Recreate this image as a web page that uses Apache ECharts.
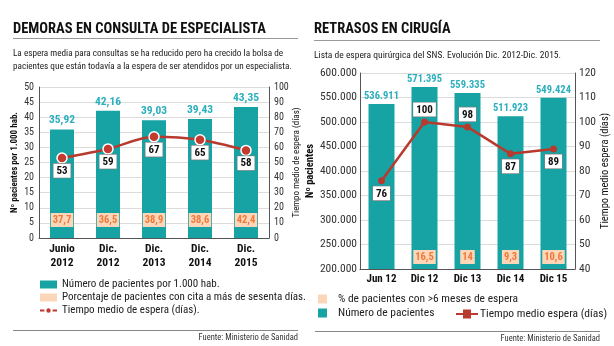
<!DOCTYPE html>
<html><head><meta charset="utf-8">
<script src="https://cdn.jsdelivr.net/npm/echarts@6/dist/echarts.min.js"></script>
<style>html,body{margin:0;padding:0;background:#fff}#c{width:614px;height:346px}</style>
</head><body><div id="c"></div>
<script>
// ---- Data ----
const consultaCats = ['Junio\n2012', 'Dic.\n2012', 'Dic.\n2013', 'Dic.\n2014', 'Dic.\n2015'];
const consultaPacientes = [35.92, 42.16, 39.03, 39.43, 43.35];
const consultaPct = [37.7, 36.5, 38.9, 38.6, 42.4];
const consultaDias = [53, 59, 67, 65, 58];

const cirugiaCats = ['Jun 12', 'Dic 12', 'Dic 13', 'Dic 14', 'Dic 15'];
const cirugiaPacientes = [536911, 571395, 559335, 511923, 549424];
const cirugiaPct = [null, 16.5, 14, 9.3, 10.6];
const cirugiaDias = [76, 100, 98, 87, 89];

// ---- Styles ----
const FONT = 'Roboto';
const CS = 'condensed';
const TEAL = '#17A3A3';
const TEAL_TXT = '#2AAFBD';
const RED = '#B83A2E';
const PEACH = '#FCD6B8';
const ORANGE = '#F0793A';
const cirugiaLabelPos = ['bottom', 'top', 'top', 'bottom', 'bottom'];

const comma = v => String(v).replace('.', ',');
const thousands = v => String(v).replace(/\B(?=(\d{3})+(?!\d))/g, '.');
const txt = (size, weight, color) => ({ fontFamily: FONT, fontStyle: CS, fontSize: size, fontWeight: weight || 'normal', color: color || '#222' });

const boxLabel = Object.assign(txt(11, 'bold', '#111'), {
  show: true, backgroundColor: '#fff', borderColor: '#777', borderWidth: 0.6, padding: [2, 3, 1, 3]
});
const pctLabel = (fmt) => Object.assign(txt(10.5, 'bold', ORANGE), {
  show: true, position: 'insideBottom', backgroundColor: PEACH, padding: [2, 2, 1, 2], formatter: fmt
});

const chart = echarts.init(document.getElementById('c'));
const axisLine = { show: true, lineStyle: { color: '#555', width: 1 } };

chart.setOption({
  backgroundColor: '#fff',
  animation: false,
  grid: [
    { left: 39, right: 345, top: 87, bottom: 108 },
    { left: 360, right: 39, top: 73, bottom: 77 }
  ],
  xAxis: [
    { type: 'category', gridIndex: 0, data: consultaCats, axisLine: axisLine, axisTick: { show: false },
      axisLabel: Object.assign(txt(11.5, 'bold', '#111'), { lineHeight: 14, margin: 4, interval: 0 }) },
    { type: 'category', gridIndex: 1, data: cirugiaCats, axisLine: axisLine, axisTick: { show: false },
      axisLabel: Object.assign(txt(11, 'bold', '#111'), { margin: 5, interval: 0 }) }
  ],
  yAxis: [
    { type: 'value', gridIndex: 0, min: 0, max: 50, interval: 5, axisLine: axisLine, axisTick: { show: false },
      axisLabel: Object.assign(txt(10, 'normal', '#333'), { margin: 5 }), splitLine: { lineStyle: { color: '#dcdcdc' } },
      name: 'Nº pacientes por 1.000 hab.', nameLocation: 'middle', nameGap: 20, nameRotate: 90,
      nameTextStyle: txt(9, 'bold', '#111') },
    { type: 'value', gridIndex: 0, min: 0, max: 100, interval: 10, position: 'right', axisLine: axisLine, axisTick: { show: false },
      axisLabel: Object.assign(txt(10, 'normal', '#333'), { margin: 5 }), splitLine: { show: false },
      name: 'Tiempo medio de espera (días)', nameLocation: 'middle', nameGap: 18, nameRotate: 90,
      nameTextStyle: txt(9, 'normal', '#111') },
    { type: 'value', gridIndex: 1, min: 200000, max: 600000, interval: 50000, axisLine: axisLine, axisTick: { show: false },
      axisLabel: Object.assign(txt(11.5, 'normal', '#333'), { formatter: v => thousands(v), margin: 3 }),
      splitLine: { lineStyle: { color: '#dcdcdc' } },
      name: 'Nº pacientes', nameLocation: 'middle', nameGap: 36, nameRotate: 90,
      nameTextStyle: txt(10.5, 'bold', '#111') },
    { type: 'value', gridIndex: 1, min: 40, max: 120, interval: 10, position: 'right', axisLine: axisLine, axisTick: { show: false },
      axisLabel: Object.assign(txt(11.5, 'normal', '#333'), { margin: 4 }), splitLine: { show: false },
      name: 'Tiempo medio espera (días)', nameLocation: 'middle', nameGap: 19, nameRotate: 90,
      nameTextStyle: txt(10.5, 'normal', '#111') }
  ],
  legend: [
    { orient: 'vertical', left: 34, top: 274, itemWidth: 17, itemHeight: 8, itemGap: 2,
      textStyle: Object.assign(txt(11, 'normal', '#222'), { padding: [0, 0, 0, 0] }),
      data: [
        { name: 'Número de pacientes por 1.000 hab.', icon: 'rect' },
        { name: 'Porcentaje de pacientes con cita a más de sesenta días.', icon: 'rect', itemStyle: { color: PEACH } },
        { name: 'Tiempo medio de espera (días).' }
      ] },
    { orient: 'vertical', left: 313, top: 288, itemWidth: 9, itemHeight: 9, itemGap: 2,
      textStyle: Object.assign(txt(11.5, 'normal', '#222'), { padding: [0, 0, 0, 6] }),
      data: [
        { name: '% de pacientes con >6 meses de espera', icon: 'rect', itemStyle: { color: PEACH } },
        { name: 'Número de pacientes', icon: 'rect' }
      ] },
    { orient: 'horizontal', left: 451, top: 303, itemWidth: 22, itemHeight: 9,
      textStyle: Object.assign(txt(11.5, 'normal', '#222'), { padding: [0, 0, 0, -3] }),
      data: [
        { name: 'Tiempo medio espera (días)', icon: 'path://M0,3.5H7V0H15V3.5H22V5.5H15V9H7V5.5H0Z', itemStyle: { color: RED } }
      ] }
  ],
  series: [
    { name: 'Número de pacientes por 1.000 hab.', type: 'bar', xAxisIndex: 0, yAxisIndex: 0, data: consultaPacientes,
      barWidth: 24, itemStyle: { color: TEAL },
      label: Object.assign(txt(11.5, 'bold', TEAL_TXT), { show: true, position: 'top', distance: 3,
        formatter: p => p.value.toFixed(2).replace('.', ',') }) },
    { name: 'Porcentaje de pacientes con cita a más de sesenta días.', type: 'bar', xAxisIndex: 0, yAxisIndex: 0,
      data: consultaPacientes, barWidth: 24, barGap: '-100%', itemStyle: { color: 'rgba(0,0,0,0)' }, z: 3,
      label: Object.assign(pctLabel(p => comma(consultaPct[p.dataIndex].toFixed(1))), { distance: 11 }) },
    { name: 'Tiempo medio de espera (días).', type: 'line', xAxisIndex: 0, yAxisIndex: 1, data: consultaDias,
      smooth: 0.3, lineStyle: { color: RED, width: 2.5 }, itemStyle: { color: '#C33A2E', borderColor: '#fff', borderWidth: 1.5 },
      symbol: 'circle', symbolSize: 10, z: 5,
      label: Object.assign({}, boxLabel, { position: 'bottom', distance: 0 }) },

    { name: 'Número de pacientes', type: 'bar', xAxisIndex: 1, yAxisIndex: 2, data: cirugiaPacientes,
      barWidth: 26, itemStyle: { color: TEAL },
      label: Object.assign(txt(10.5, 'bold', TEAL_TXT), { show: true, position: 'top', distance: 2,
        formatter: p => thousands(p.value) }) },
    { name: '% de pacientes con >6 meses de espera', type: 'bar', xAxisIndex: 1, yAxisIndex: 2,
      data: cirugiaPacientes.map((v, i) => cirugiaPct[i] == null ? { value: v, label: { show: false } } : v),
      barWidth: 26, barGap: '-100%', itemStyle: { color: 'rgba(0,0,0,0)' }, z: 3,
      label: Object.assign(pctLabel(p => comma(cirugiaPct[p.dataIndex])), { distance: 5 }) },
    { name: 'Tiempo medio espera (días)', type: 'line', xAxisIndex: 1, yAxisIndex: 3,
      data: cirugiaDias.map((v, i) => ({ value: v, label: { position: cirugiaLabelPos[i] } })),
      lineStyle: { color: RED, width: 2.5 }, itemStyle: { color: RED },
      symbol: 'circle', symbolSize: 7, z: 5,
      label: Object.assign({}, boxLabel, { distance: 2 }) }
  ],
  graphic: [
    { type: 'text', left: 13, top: 22, style: { text: 'DEMORAS EN CONSULTA DE ESPECIALISTA', fill: '#111', font: 'condensed bold 14.5px Roboto' } },
    { type: 'line', shape: { x1: 13, y1: 38.5, x2: 298, y2: 38.5 }, style: { stroke: '#999', lineWidth: 1 } },
    { type: 'text', left: 13, top: 47, style: { text: 'La espera media para consultas se ha reducido pero ha crecido la bolsa de\npacientes que están todavía a la espera de ser atendidos por un especialista.', fill: '#222', font: 'condensed normal 9.2px Roboto', lineHeight: 13 } },
    { type: 'line', shape: { x1: 13, y1: 330.5, x2: 298, y2: 330.5 }, style: { stroke: '#888', lineWidth: 1 } },
    { type: 'text', right: 316, top: 333, style: { text: 'Fuente: Ministerio de Sanidad', fill: '#333', font: 'condensed normal 8.5px Roboto', align: 'right' } },

    { type: 'text', left: 314, top: 22, style: { text: 'RETRASOS EN CIRUGÍA', fill: '#111', font: 'condensed bold 14.5px Roboto' } },
    { type: 'line', shape: { x1: 314, y1: 40.5, x2: 600, y2: 40.5 }, style: { stroke: '#999', lineWidth: 1 } },
    { type: 'text', left: 314, top: 51, style: { text: 'Lista de espera quirúrgica del SNS. Evolución Dic. 2012-Dic. 2015.', fill: '#222', font: 'condensed normal 9.5px Roboto' } },
    { type: 'line', shape: { x1: 315, y1: 331.5, x2: 600, y2: 331.5 }, style: { stroke: '#888', lineWidth: 1 } },
    { type: 'text', right: 14, top: 334, style: { text: 'Fuente: Ministerio de Sanidad', fill: '#333', font: 'condensed normal 8.5px Roboto', align: 'right' } }
  ]
});
</script></body></html>
